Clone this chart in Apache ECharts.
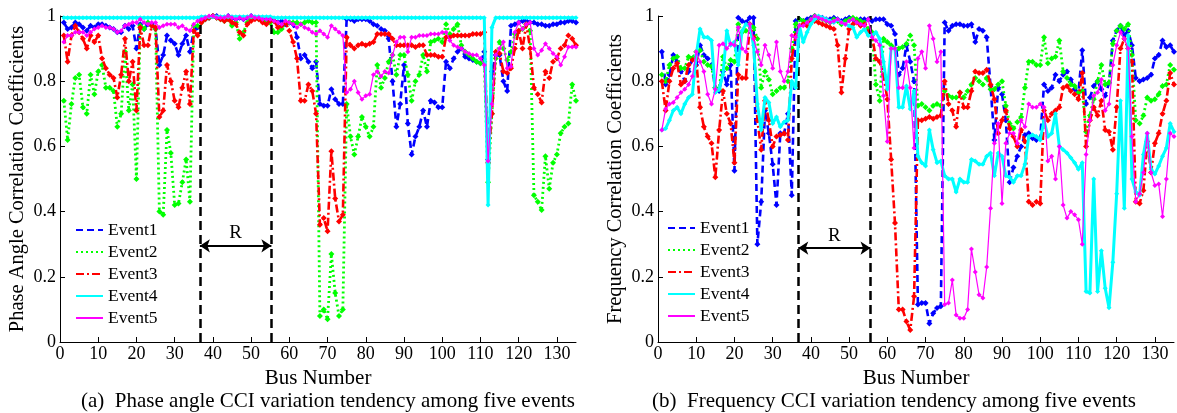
<!DOCTYPE html>
<html>
<head>
<meta charset="utf-8">
<script src="https://cdn.jsdelivr.net/npm/echarts/dist/echarts.min.js"></script>
<style>
  html, body { margin: 0; padding: 0; background: #fff; }
  #chart { width: 1177px; height: 413px; }
</style>
</head>
<body>
<div id="chart"></div>
<script>
const chart = echarts.init(document.getElementById('chart'));

const FONT = 'Liberation Serif';

// bus numbers 1..135 (x categories)
const buses = Array.from({ length: 135 }, (_, i) => i + 1);
const xTicks = [0, 10, 20, 30, 40, 50, 60, 70, 80, 90, 100, 110, 120, 130];
const eventNames = ['Event1', 'Event2', 'Event3', 'Event4', 'Event5'];
const captions = [
  '(a)  Phase angle CCI variation tendency among five events',
  '(b)  Frequency CCI variation tendency among five events'
];
// the "R" region bounds in each panel
const regionA = [36.6, 55.3];
const regionB = [36.7, 55.6];

// ---- phase angle CCI ----
const phase1 = [
  0.98, 0.96, 0.965, 0.98, 0.975, 0.965, 0.955, 0.97, 0.965, 0.975,
  0.975, 0.97, 0.965, 0.96, 0.95, 0.95, 0.97, 0.96, 0.97, 0.90,
  0.975, 0.96, 0.975, 0.975, 0.96, 0.85, 0.88, 0.94, 0.925, 0.915,
  0.88, 0.915, 0.94, 0.89, 0.955, 0.965,
  0.985, 0.99, 0.995, 1, 1, 0.995, 0.995, 1, 0.995, 0.99,
  0.995, 0.99, 0.995, 1, 0.995, 0.995, 0.99, 0.99, 0.99,
  0.985, 0.98, 0.985, 0.975, 0.98, 0.975, 0.935, 0.87, 0.88, 0.86,
  0.84, 0.86, 0.73, 0.725, 0.725, 0.775, 0.745, 0.73, 0.73,
  0.99, 0.99, 0.985, 0.99, 0.99, 0.99, 0.985, 0.975, 0.97, 0.96,
  0.955, 0.93, 0.80, 0.66,
  0.73, 0.85, 0.67, 0.575, 0.63, 0.66, 0.71, 0.66, 0.74, 0.735,
  0.72, 0.72, 0.86, 0.84, 0.87, 0.89, 0.90, 0.875, 0.87, 0.865, 0.86, 0.855,
  0.89, 0.56, 0.83, 0.88, 0.88, 0.80, 0.77, 0.97,
  0.975, 0.98, 0.985, 0.985, 0.98, 0.98, 0.975, 0.975, 0.97, 0.97,
  0.975, 0.975, 0.98, 0.98, 0.985, 0.985, 0.98
];
const phase2 = [
  0.74, 0.62, 0.73, 0.81, 0.82, 0.72, 0.70, 0.82, 0.76, 0.83,
  0.85, 0.78, 0.78, 0.77, 0.66, 0.70, 0.89, 0.71, 0.79, 0.50,
  0.97, 0.96, 0.98, 0.97, 0.96, 0.40, 0.39, 0.65, 0.58, 0.42,
  0.425, 0.49, 0.56, 0.43, 0.97, 0.97,
  0.98, 0.99, 0.995, 1, 0.995, 0.99, 0.985, 0.99, 0.97, 0.98,
  0.93, 0.95, 0.98, 0.99, 0.995, 0.99, 0.985, 0.98, 0.98,
  0.95, 0.95, 0.96, 0.98, 0.98, 0.98, 0.98, 0.975, 0.98, 0.985, 0.98, 0.98,
  0.08, 0.10, 0.07, 0.27, 0.15, 0.08, 0.10,
  0.73, 0.63, 0.575, 0.63, 0.69, 0.66, 0.63, 0.66, 0.85, 0.78, 0.81, 0.86, 0.88, 0.82,
  0.88, 0.88, 0.82, 0.74, 0.80, 0.82, 0.88, 0.83, 0.92, 0.925, 0.93, 0.92,
  0.975, 0.945, 0.96, 0.975, 0.91, 0.89, 0.88, 0.87, 0.86, 0.855, 0.86,
  0.49, 0.70, 0.87, 0.92, 0.90, 0.865, 0.89, 0.945, 0.955, 0.96, 0.975, 0.955,
  0.45, 0.43, 0.405, 0.57, 0.47, 0.55, 0.575, 0.64, 0.66, 0.67, 0.79, 0.74
];
const phase3 = [
  0.94, 0.86, 0.94, 0.97, 0.95, 0.93, 0.90, 0.94, 0.92, 0.94,
  0.87, 0.84, 0.82, 0.81, 0.75, 0.82, 0.93, 0.80, 0.86, 0.71,
  0.965, 0.91, 0.91, 0.97, 0.965, 0.69, 0.71, 0.85, 0.80, 0.74,
  0.72, 0.78, 0.83, 0.73, 0.955, 0.94,
  0.98, 0.99, 0.995, 1, 0.995, 0.99, 0.985, 0.99, 0.98, 0.975,
  0.95, 0.94, 0.975, 0.985, 0.99, 0.99, 0.98, 0.975, 0.985,
  0.985, 0.965, 0.97, 0.98, 0.955, 0.92, 0.87, 0.74, 0.74, 0.79,
  0.77, 0.70, 0.36, 0.38, 0.34, 0.585, 0.44, 0.37, 0.39,
  0.935, 0.91, 0.90, 0.91, 0.915, 0.91, 0.915, 0.92, 0.945, 0.945, 0.945, 0.945, 0.93, 0.91,
  0.91, 0.91, 0.91, 0.91, 0.905, 0.91, 0.91, 0.88, 0.88, 0.88, 0.875, 0.875,
  0.935, 0.935, 0.94, 0.94, 0.94, 0.94, 0.94, 0.945, 0.945, 0.945, 0.95,
  0.55, 0.70, 0.89, 0.885, 0.83, 0.825, 0.84, 0.90, 0.955, 0.90, 0.975, 0.90,
  0.78, 0.76, 0.735, 0.83, 0.81, 0.86, 0.87, 0.90, 0.91, 0.94, 0.93, 0.91
];
const phase4 = [
  0.995, 0.995, 0.995, 0.995, 0.995, 0.995, 0.995, 0.995, 0.995, 0.995,
  0.995, 0.995, 0.995, 0.995, 0.995, 0.995, 0.995, 0.995, 0.995, 0.995,
  0.995, 0.995, 0.995, 0.995, 0.995, 0.995, 0.995, 0.995, 0.995, 0.995,
  0.995, 0.995, 0.995, 0.995, 0.995, 0.995,
  0.998, 0.998, 0.998, 0.998, 0.998, 0.998, 0.998, 0.998, 0.998, 0.998,
  0.998, 0.998, 0.998, 0.998, 0.998, 0.998, 0.998, 0.998, 0.998,
  0.995, 0.995, 0.995, 0.995, 0.995, 0.995, 0.995, 0.995, 0.995, 0.995,
  0.995, 0.995, 0.995, 0.995, 0.995, 0.995, 0.995, 0.995, 0.995, 0.995,
  0.995, 0.995, 0.995, 0.995, 0.995, 0.995, 0.995, 0.995, 0.995, 0.995,
  0.995, 0.995, 0.995, 0.995, 0.995, 0.995, 0.995, 0.995, 0.995, 0.995,
  0.995, 0.995, 0.995, 0.995, 0.995, 0.995, 0.995, 0.995, 0.995, 0.995,
  0.995, 0.995, 0.995, 0.995, 0.995, 0.995,
  0.42, 0.965,
  0.995, 0.995, 0.995, 0.995, 0.995, 0.995, 0.995, 0.995, 0.995, 0.995,
  0.995, 0.995, 0.995, 0.995, 0.995, 0.995, 0.995, 0.995, 0.995, 0.995, 0.995, 0.995
];
const phase5 = [
  0.92, 0.94, 0.94, 0.95, 0.95, 0.95, 0.94, 0.95, 0.96, 0.965,
  0.97, 0.965, 0.965, 0.96, 0.95, 0.955, 0.97, 0.975, 0.98, 0.98,
  0.99, 0.98, 0.975, 0.98, 0.98, 0.965, 0.97, 0.975, 0.975, 0.975,
  0.965, 0.97, 0.96, 0.955, 0.975, 0.985,
  0.99, 0.995, 1, 1, 0.995, 0.995, 0.995, 1, 0.995, 0.99,
  0.995, 0.99, 0.995, 1, 0.995, 0.995, 0.99, 0.99, 0.99,
  0.985, 0.98, 0.975, 0.985, 0.98, 0.975, 0.965, 0.975, 0.965, 0.96,
  0.95, 0.945, 0.955, 0.945, 0.935, 0.97, 0.96, 0.95, 0.94,
  0.765, 0.775, 0.80, 0.765, 0.745, 0.755, 0.76, 0.82, 0.83, 0.815, 0.83, 0.825, 0.88, 0.92,
  0.935, 0.935, 0.89, 0.935, 0.935, 0.94, 0.94, 0.94, 0.945, 0.945, 0.945, 0.95,
  0.95, 0.925, 0.91, 0.905, 0.90, 0.89, 0.885, 0.88, 0.88, 0.87, 0.85,
  0.555, 0.73, 0.88, 0.90, 0.92, 0.84, 0.845, 0.95, 0.98, 0.96, 0.975, 0.98,
  0.90, 0.88, 0.895, 0.915, 0.90, 0.885, 0.875, 0.85, 0.875, 0.905, 0.905, 0.905
];

// ---- frequency CCI ----
const freq1 = [
  0.89, 0.79, 0.82, 0.88, 0.86, 0.83, 0.80, 0.83, 0.87, 0.85,
  0.91, 0.88, 0.87, 0.85, 0.78, 0.77, 0.83, 0.79, 0.85, 0.525,
  0.995, 0.985, 0.98, 0.995, 0.995, 0.30, 0.43, 0.71, 0.64, 0.545,
  0.42, 0.64, 0.64, 0.70, 0.45, 0.985, 0.99,
  0.985, 0.99, 0.995, 1, 0.995, 0.995, 0.99, 0.99, 0.995,
  0.99, 0.985, 0.99, 0.995, 0.99, 0.985, 0.99, 0.99, 0.99,
  0.985, 0.99, 0.99, 0.99, 0.975, 0.97, 0.945, 0.82, 0.84, 0.91, 0.86, 0.80,
  0.115, 0.12, 0.12, 0.057, 0.088, 0.104, 0.11,
  0.98, 0.955, 0.97, 0.975, 0.975, 0.97, 0.97, 0.975, 0.92, 0.96, 0.955, 0.935,
  0.785, 0.62, 0.78, 0.76, 0.68, 0.49, 0.535, 0.57, 0.60, 0.635, 0.64, 0.625, 0.62, 0.625,
  0.79, 0.77, 0.78, 0.82, 0.80, 0.82, 0.83, 0.805, 0.775, 0.765,
  0.895, 0.73, 0.75, 0.785, 0.80, 0.775, 0.755, 0.795,
  0.925, 0.955, 0.97, 0.94, 0.955, 0.91, 0.81, 0.80, 0.805, 0.81,
  0.82, 0.87, 0.88, 0.925, 0.905, 0.91, 0.89
];
const freq2 = [
  0.82, 0.80, 0.85, 0.87, 0.875, 0.84, 0.84, 0.875, 0.87, 0.89,
  0.895, 0.86, 0.85, 0.845, 0.78, 0.775, 0.875, 0.84, 0.865, 0.86,
  0.975, 0.95, 0.955, 0.975, 0.965, 0.93, 0.78, 0.83, 0.805, 0.76,
  0.77, 0.78, 0.78, 0.80, 0.90, 0.975, 0.99,
  0.985, 0.98, 0.99, 1, 0.995, 0.99, 0.985, 0.98, 0.99,
  0.985, 0.975, 0.985, 0.99, 0.995, 0.99, 0.985, 0.98, 0.96,
  0.95, 0.79, 0.74, 0.93, 0.92, 0.91, 0.90, 0.90, 0.905, 0.915, 0.94, 0.91,
  0.725, 0.73, 0.72, 0.71, 0.725, 0.73, 0.725,
  0.77, 0.755, 0.75, 0.75, 0.765, 0.75, 0.77, 0.79, 0.81, 0.80, 0.79, 0.81,
  0.775, 0.775, 0.79, 0.80, 0.725, 0.67, 0.655, 0.675, 0.69, 0.78, 0.86, 0.86, 0.85, 0.85,
  0.935, 0.855, 0.87, 0.875, 0.925, 0.83, 0.81, 0.79, 0.785, 0.765,
  0.77, 0.645, 0.695, 0.745, 0.80, 0.85, 0.79, 0.795,
  0.915, 0.955, 0.97, 0.96, 0.975, 0.88, 0.68, 0.67, 0.695, 0.75,
  0.74, 0.745, 0.76, 0.785, 0.79, 0.85, 0.835
];
const freq3 = [
  0.80, 0.71, 0.80, 0.84, 0.855, 0.79, 0.80, 0.85, 0.865, 0.87,
  0.72, 0.66, 0.63, 0.61, 0.505, 0.65, 0.77, 0.70, 0.67, 0.55,
  0.82, 0.81, 0.81, 0.975, 0.935, 0.68, 0.59, 0.74, 0.68, 0.60,
  0.63, 0.635, 0.64, 0.62, 0.87, 0.94, 0.97,
  0.975, 0.97, 0.98, 0.985, 0.98, 0.975, 0.97, 0.965, 0.96,
  0.91, 0.765, 0.87, 0.96, 0.975, 0.98, 0.97, 0.975, 0.95,
  0.94, 0.87, 0.86, 0.82, 0.745, 0.56, 0.365, 0.10, 0.10, 0.063, 0.037, 0.14,
  0.68, 0.68, 0.685, 0.69, 0.685, 0.69, 0.695,
  0.80, 0.73, 0.71, 0.66, 0.765, 0.72, 0.72, 0.77, 0.83, 0.825, 0.825, 0.835,
  0.79, 0.745, 0.64, 0.68, 0.71, 0.655, 0.63, 0.60, 0.65, 0.615, 0.43, 0.42, 0.43, 0.425,
  0.71, 0.68, 0.70, 0.71, 0.72, 0.78, 0.785, 0.77, 0.76, 0.745,
  0.825, 0.60, 0.68, 0.72, 0.695, 0.74, 0.65, 0.645,
  0.59, 0.72, 0.90, 0.93, 0.90, 0.86, 0.43, 0.425, 0.465, 0.615,
  0.52, 0.61, 0.64, 0.70, 0.74, 0.825, 0.79
];
const freq4 = [
  0.65, 0.655, 0.68, 0.71, 0.72, 0.70, 0.73, 0.75, 0.76, 0.88,
  0.96, 0.935, 0.935, 0.925, 0.765, 0.775, 0.82, 0.955, 0.91, 0.92,
  0.85, 0.955, 0.975, 0.97, 0.91, 0.73, 0.65, 0.75, 0.735, 0.67,
  0.69, 0.66, 0.675, 0.68, 0.80, 0.78, 0.97,
  0.92, 0.95, 0.975, 0.99, 1, 0.995, 0.99, 0.985, 0.98,
  0.99, 0.98, 0.975, 0.97, 0.965, 0.935, 0.95, 0.96, 0.94,
  0.94, 0.95, 0.93, 0.86, 0.775, 0.90, 0.90, 0.72, 0.72, 0.785, 0.715, 0.77,
  0.57, 0.55, 0.54, 0.65, 0.59, 0.55, 0.555,
  0.51, 0.50, 0.50, 0.46, 0.50, 0.49, 0.49, 0.56, 0.555, 0.545, 0.545, 0.57,
  0.58, 0.51, 0.58, 0.57, 0.51, 0.505, 0.49, 0.51, 0.51, 0.545, 0.63, 0.635, 0.63, 0.62,
  0.68, 0.63, 0.64, 0.70, 0.60, 0.59, 0.58, 0.565, 0.55, 0.53,
  0.55, 0.155, 0.15, 0.50, 0.155, 0.28, 0.165, 0.105,
  0.245, 0.455, 0.74, 0.41, 0.94, 0.50, 0.46, 0.45, 0.575, 0.64,
  0.53, 0.515, 0.54, 0.57, 0.595, 0.67, 0.645
];
const freq5 = [
  0.65, 0.715, 0.73, 0.735, 0.75, 0.765, 0.775, 0.79, 0.815, 0.89,
  0.86, 0.83, 0.76, 0.73, 0.775, 0.91, 0.915, 0.90, 0.915, 0.91,
  0.965, 0.90, 0.89, 0.975, 0.93, 0.89, 0.85, 0.91, 0.88, 0.84,
  0.92, 0.83, 0.80, 0.83, 0.94, 0.935, 0.97,
  0.97, 0.98, 0.99, 1, 0.995, 0.99, 0.985, 0.98, 0.985,
  0.99, 0.98, 0.975, 0.985, 0.99, 0.98, 0.975, 0.97, 0.99,
  0.935, 0.925, 0.91, 0.755, 0.615, 0.90, 0.90, 0.78, 0.78, 0.86, 0.78, 0.595,
  0.87, 0.89, 0.84, 0.97, 0.93, 0.86, 0.89,
  0.115, 0.12, 0.19, 0.083, 0.073, 0.073, 0.10, 0.285, 0.215, 0.145, 0.135, 0.23,
  0.41, 0.61, 0.67, 0.425, 0.61, 0.64, 0.64, 0.61, 0.68, 0.66, 0.73, 0.72, 0.72, 0.73,
  0.72, 0.555, 0.57, 0.50, 0.60, 0.42, 0.38, 0.40, 0.39, 0.375,
  0.30, 0.575, 0.68, 0.755, 0.765, 0.805, 0.71, 0.73,
  0.85, 0.91, 0.95, 0.93, 0.90, 0.63, 0.43, 0.455, 0.52, 0.64,
  0.52, 0.48, 0.485, 0.385, 0.50, 0.64, 0.63
];

const phaseSets = [phase1, phase2, phase3, phase4, phase5];
const freqSets = [freq1, freq2, freq3, freq4, freq5];

// matlab-ish line looks
const looks = [
  { color: '#0000ff', width: 2.6, type: [7, 4], size: 6 },
  { color: '#00ff00', width: 2.8, type: [2, 3], size: 6 },
  { color: '#ff0000', width: 2.6, type: [8, 3, 2, 3], size: 6 },
  { color: '#00ffff', width: 3, type: 'solid', size: 5 },
  { color: '#ff00ff', width: 1.2, type: 'solid', size: 5 }
];

const textBase = { fontFamily: FONT, color: '#000' };

function makeSeries(values, k, g) {
  const lk = looks[k];
  return {
    name: eventNames[k],
    type: 'line',
    xAxisIndex: g,
    yAxisIndex: g,
    data: buses.map((b, i) => [b, values[i]]),
    symbol: 'diamond',
    symbolSize: lk.size,
    itemStyle: { color: lk.color },
    lineStyle: { color: lk.color, width: lk.width, type: lk.type },
    z: 2 + k,
    silent: true
  };
}

function regionSeries(g, region, arrowY) {
  return {
    type: 'line',
    xAxisIndex: g,
    yAxisIndex: g,
    data: [],
    silent: true,
    z: 20,
    markLine: {
      silent: true,
      animation: false,
      symbol: ['none', 'none'],
      symbolSize: 10,
      label: { show: false },
      lineStyle: { color: '#000', width: 2.5, type: [9, 5] },
      data: [
        { xAxis: region[0] },
        { xAxis: region[1] },
        [
          {
            coord: [region[0], arrowY],
            symbol: 'arrow',
            lineStyle: { type: 'solid', width: 2, color: '#000' },
            label: {
              show: true, formatter: 'R', position: 'insideMiddleTop',
              distance: 3, fontSize: 19, ...textBase
            }
          },
          { coord: [region[1], arrowY], symbol: 'arrow' }
        ]
      ]
    }
  };
}

function xAx(g) {
  return {
    gridIndex: g,
    type: 'value',
    min: 0,
    max: 135,
    name: 'Bus Number',
    nameLocation: 'middle',
    nameGap: 22,
    nameTextStyle: { fontSize: 21, ...textBase },
    axisLine: { show: true, onZero: false, lineStyle: { color: '#000', width: 1 } },
    axisTick: { show: true, inside: true, length: 5, customValues: xTicks, lineStyle: { color: '#000' } },
    axisLabel: { fontSize: 18, margin: 3, customValues: xTicks, ...textBase },
    splitLine: { show: false }
  };
}

function yAx(g, name) {
  return {
    gridIndex: g,
    type: 'value',
    min: 0,
    max: 1,
    interval: 0.2,
    name,
    nameLocation: 'middle',
    nameRotate: 90,
    nameGap: 32,
    nameTextStyle: { fontSize: 20.5, ...textBase },
    axisLine: { show: true, onZero: false, lineStyle: { color: '#000', width: 1 } },
    axisTick: { show: true, inside: true, length: 5, lineStyle: { color: '#000' } },
    axisLabel: { fontSize: 18, margin: 4, ...textBase },
    splitLine: { show: false }
  };
}

function mkLegend(left, top) {
  return {
    data: eventNames,
    orient: 'vertical',
    left,
    top,
    itemWidth: 27,
    itemHeight: 12,
    itemGap: 4,
    padding: 0,
    selectedMode: false,
    itemStyle: { opacity: 0 },
    textStyle: { fontSize: 17.5, ...textBase }
  };
}

const option = {
  backgroundColor: '#fff',
  animation: false,
  grid: [
    { left: 60, top: 16, width: 516, height: 326, containLabel: false, outerBoundsMode: 'none' },
    { left: 658, top: 16, width: 516, height: 326, containLabel: false, outerBoundsMode: 'none' }
  ],
  xAxis: [xAx(0), xAx(1)],
  yAxis: [
    yAx(0, 'Phase Angle Correlation Coefficients'),
    yAx(1, 'Frequency Correlation Coefficients')
  ],
  legend: [mkLegend(75, 221), mkLegend(667, 219)],
  series: [
    ...phaseSets.map((v, k) => makeSeries(v, k, 0)),
    ...freqSets.map((v, k) => makeSeries(v, k, 1)),
    regionSeries(0, regionA, 0.295),
    regionSeries(1, regionB, 0.288)
  ],
  graphic: [
    {
      type: 'text', x: 328, y: 401, silent: true,
      style: { text: captions[0], font: '21px "Liberation Serif"', fill: '#000', align: 'center', verticalAlign: 'middle' }
    },
    {
      type: 'text', x: 894, y: 401, silent: true,
      style: { text: captions[1], font: '21px "Liberation Serif"', fill: '#000', align: 'center', verticalAlign: 'middle' }
    }
  ]
};

chart.setOption(option);
</script>
</body>
</html>
